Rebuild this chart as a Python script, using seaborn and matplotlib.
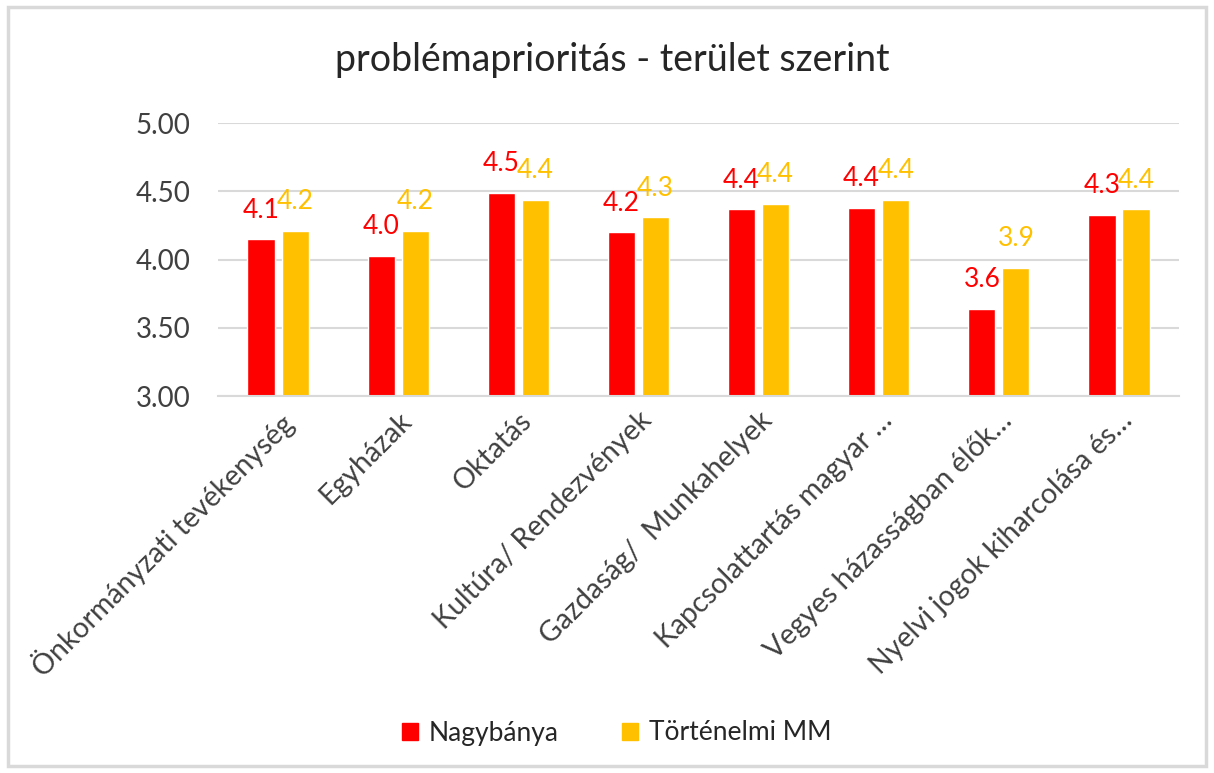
import matplotlib.pyplot as plt
import matplotlib.patches as patches
import pandas as pd
import seaborn as sns

# Data
categories = ['Önkormányzati tevékenység', 'Egyházak', 'Oktatás', 'Kultúra/ Rendezvények',
              'Gazdaság/  Munkahelyek', 'Kapcsolattartás magyar …', 'Vegyes házasságban élők…',
              'Nyelvi jogok kiharcolása és…']
nagybanya = [4.15, 4.03, 4.49, 4.20, 4.37, 4.38, 3.64, 4.33]
tortenelmi = [4.21, 4.21, 4.44, 4.31, 4.41, 4.44, 3.94, 4.37]
series = ['Nagybánya', 'Történelmi MM']
colors = ['#FF0000', '#FFC000']
labels = [nagybanya, tortenelmi]

df = pd.DataFrame({
    'category': categories * 2,
    'value': nagybanya + tortenelmi,
    'series': [series[0]] * len(categories) + [series[1]] * len(categories),
})

sns.set_theme(style='white')
plt.rcParams['font.family'] = ['Lato', 'DejaVu Sans']

fig = plt.figure(figsize=(12.14, 7.73), dpi=100)
ax = fig.add_axes([0.1796, 0.4877, 0.7916, 0.3528])

sns.barplot(data=df, x='category', y='value', hue='series', palette=colors,
            width=0.567, gap=0.2, ax=ax, legend=False, saturation=1)

ax.set_ylim(3, 5)
ax.set_yticks([3, 3.5, 4, 4.5, 5])
ax.set_yticklabels(['%.2f' % v for v in [3, 3.5, 4, 4.5, 5]], fontsize=20, color='#404040')
ax.yaxis.grid(True, color='#D9D9D9', linewidth=1.5)
ax.set_axisbelow(True)
for s in ['top', 'right', 'left']:
    ax.spines[s].set_visible(False)
ax.spines['bottom'].set_color('#D9D9D9')
ax.spines['bottom'].set_linewidth(1.5)
ax.tick_params(axis='y', length=0, pad=20)
ax.tick_params(axis='x', length=0, pad=8)
ax.set_xlabel('')
ax.set_ylabel('')
plt.setp(ax.get_xticklabels(), rotation=45, ha='right', rotation_mode='anchor',
         fontsize=20.5, color='#404040')

# Excel-style labels: one decimal, rounding half down like the source
for cont, c, vals in zip(ax.containers, colors, labels):
    txt = ['%.1f' % (v - 0.001) for v in vals]
    ax.bar_label(cont, labels=txt, padding=12, color=c, fontsize=19)

fig.text(0.504, 1 - 60 / 773, 'problémaprioritás - terület szerint', ha='center', va='center',
         fontsize=27, color='#262626')

handles = [patches.Patch(color=c, label=s) for c, s in zip(colors, series)]
fig.legend(handles=handles, loc='center', bbox_to_anchor=(0.508, 1 - 733 / 773), ncol=2,
           frameon=False, fontsize=19, handlelength=0.6, handleheight=0.6,
           handletextpad=0.4, columnspacing=2.4, labelcolor='#262626')

fig.patches.append(patches.Rectangle((8 / 1214, 1 - 766 / 773), 1198 / 1214, 759 / 773,
                                     transform=fig.transFigure, fill=False,
                                     edgecolor='#D9D9D9', linewidth=2.5))

fig.savefig('out.png', dpi=100)
